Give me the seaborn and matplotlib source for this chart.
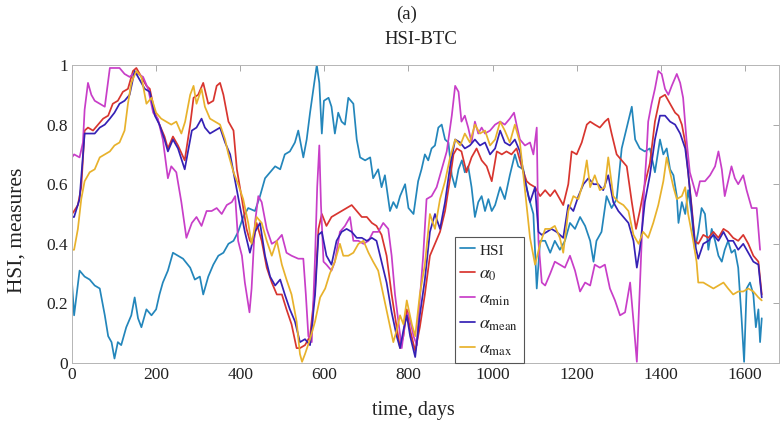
import matplotlib
matplotlib.use("Agg")
import matplotlib.pyplot as plt
import seaborn as sns
import pandas as pd
from matplotlib.lines import Line2D

# ---- series (day, value) ----
hsi_day = [0, 5, 18, 30, 42, 54, 66, 78, 86, 94, 101, 109, 117, 129, 141, 149, 157, 165, 177, 189,
           200, 208, 216, 228, 240, 252, 264, 281, 292, 304, 312, 324, 336, 348, 360, 372, 384, 395,
           407, 419, 435, 447, 459, 471, 483, 495, 506, 518, 530, 538, 550, 558, 566, 574, 582, 588,
           594, 599, 610, 617, 625, 633, 641, 649, 657, 669, 677, 685, 697, 709, 716, 728, 736, 744,
           756, 764, 772, 780, 792, 800, 812, 823, 831, 839, 847, 855, 863, 871, 879, 887, 895, 903,
           911, 919, 927, 934, 942, 950, 958, 966, 974, 982, 990, 998, 1006, 1018, 1029, 1041, 1053,
           1061, 1073, 1085, 1097, 1105, 1113, 1125, 1137, 1148, 1160, 1172, 1184, 1196, 1208, 1220,
           1232, 1240, 1247, 1259, 1271, 1283, 1295, 1307, 1319, 1331, 1339, 1350, 1362, 1374, 1386,
           1398, 1406, 1414, 1422, 1430, 1438, 1442, 1450, 1458, 1465, 1473, 1481, 1489, 1497, 1505,
           1513, 1521, 1529, 1537, 1545, 1552, 1560, 1568, 1576, 1584, 1592, 1598, 1604, 1612, 1620,
           1626, 1632, 1636, 1640]
hsi_val = [0.27, 0.16, 0.31, 0.29, 0.28, 0.26, 0.25, 0.16, 0.09, 0.07, 0.015, 0.07, 0.06, 0.12, 0.16,
           0.22, 0.15, 0.12, 0.18, 0.16, 0.18, 0.23, 0.27, 0.31, 0.37, 0.36, 0.35, 0.32, 0.28, 0.29,
           0.23, 0.29, 0.33, 0.36, 0.37, 0.40, 0.41, 0.44, 0.49, 0.52, 0.51, 0.56, 0.62, 0.64, 0.66,
           0.65, 0.70, 0.71, 0.74, 0.78, 0.69, 0.75, 0.84, 0.92, 1.00, 0.94, 0.77, 0.88, 0.89, 0.86,
           0.77, 0.84, 0.81, 0.80, 0.89, 0.87, 0.75, 0.69, 0.68, 0.69, 0.62, 0.65, 0.59, 0.63, 0.51,
           0.54, 0.52, 0.56, 0.60, 0.52, 0.50, 0.61, 0.65, 0.70, 0.68, 0.72, 0.73, 0.79, 0.80, 0.75,
           0.74, 0.63, 0.59, 0.65, 0.68, 0.64, 0.66, 0.59, 0.49, 0.54, 0.56, 0.51, 0.55, 0.51, 0.53,
           0.59, 0.55, 0.63, 0.70, 0.66, 0.65, 0.56, 0.50, 0.25, 0.41, 0.41, 0.37, 0.41, 0.38, 0.41,
           0.47, 0.45, 0.49, 0.46, 0.41, 0.34, 0.41, 0.44, 0.56, 0.52, 0.55, 0.72, 0.79, 0.86, 0.75,
           0.72, 0.71, 0.72, 0.64, 0.75, 0.70, 0.72, 0.65, 0.63, 0.56, 0.47, 0.54, 0.50, 0.58, 0.50,
           0.38, 0.44, 0.52, 0.50, 0.38, 0.45, 0.41, 0.36, 0.34, 0.38, 0.41, 0.37, 0.38, 0.32, 0.15,
           0.004, 0.25, 0.27, 0.23, 0.12, 0.18, 0.07, 0.15]

a0_day = [0, 5, 14, 22, 30, 38, 50, 62, 74, 86, 97, 109, 121, 133, 145, 153, 165, 177, 185, 197, 208,
          220, 228, 240, 252, 268, 281, 289, 300, 312, 324, 336, 344, 352, 360, 372, 384, 392, 404,
          415, 423, 431, 439, 451, 463, 475, 487, 499, 510, 522, 534, 542, 554, 566, 578, 586, 594,
          605, 617, 629, 641, 653, 665, 677, 689, 701, 713, 724, 736, 748, 760, 772, 780, 788, 796,
          804, 816, 827, 839, 851, 863, 875, 887, 899, 907, 915, 926, 938, 950, 962, 974, 986, 998,
          1010, 1022, 1033, 1045, 1057, 1069, 1081, 1089, 1101, 1113, 1125, 1137, 1148, 1160, 1168,
          1180, 1188, 1200, 1212, 1224, 1232, 1243, 1255, 1267, 1275, 1283, 1295, 1307, 1319, 1331,
          1341, 1350, 1362, 1374, 1386, 1398, 1410, 1422, 1434, 1442, 1450, 1458, 1465, 1473, 1481,
          1489, 1501, 1513, 1525, 1537, 1549, 1560, 1572, 1584, 1596, 1608, 1620, 1632, 1640]
a0_val = [0.50, 0.51, 0.53, 0.59, 0.78, 0.79, 0.78, 0.80, 0.82, 0.83, 0.87, 0.88, 0.91, 0.92, 0.98,
          0.99, 0.96, 0.93, 0.92, 0.84, 0.80, 0.76, 0.72, 0.76, 0.73, 0.68, 0.80, 0.89, 0.90, 0.94,
          0.87, 0.88, 0.93, 0.94, 0.90, 0.81, 0.78, 0.65, 0.55, 0.45, 0.41, 0.40, 0.47, 0.41, 0.32,
          0.27, 0.23, 0.23, 0.18, 0.13, 0.05, 0.05, 0.06, 0.09, 0.25, 0.45, 0.50, 0.46, 0.49, 0.50,
          0.51, 0.52, 0.53, 0.51, 0.49, 0.49, 0.47, 0.46, 0.43, 0.36, 0.23, 0.12, 0.05, 0.09, 0.18,
          0.11, 0.04, 0.12, 0.23, 0.36, 0.40, 0.44, 0.51, 0.62, 0.70, 0.72, 0.71, 0.64, 0.69, 0.72,
          0.68, 0.66, 0.61, 0.71, 0.70, 0.71, 0.70, 0.72, 0.66, 0.61, 0.60, 0.59, 0.56, 0.58, 0.56,
          0.58, 0.55, 0.53, 0.60, 0.71, 0.70, 0.74, 0.80, 0.81, 0.80, 0.79, 0.81, 0.82, 0.77, 0.70,
          0.68, 0.66, 0.54, 0.45, 0.51, 0.60, 0.67, 0.81, 0.89, 0.90, 0.87, 0.84, 0.83, 0.80, 0.74,
          0.64, 0.53, 0.41, 0.40, 0.43, 0.42, 0.44, 0.42, 0.45, 0.44, 0.42, 0.41, 0.43, 0.40, 0.36,
          0.34, 0.23]

amin_day = [0, 5, 18, 26, 30, 38, 46, 54, 66, 78, 90, 101, 113, 125, 137, 145, 157, 169, 181, 193,
            204, 216, 228, 236, 248, 260, 272, 285, 296, 308, 320, 332, 344, 356, 368, 380, 388, 395,
            404, 411, 422, 427, 435, 443, 451, 463, 475, 487, 499, 510, 522, 538, 550, 556, 562, 570,
            578, 583, 588, 592, 598, 605, 617, 625, 637, 649, 661, 669, 681, 693, 705, 716, 728, 740,
            752, 760, 768, 776, 784, 792, 800, 812, 820, 823, 835, 843, 855, 867, 879, 891, 903, 911,
            919, 926, 934, 942, 950, 958, 966, 974, 982, 994, 1006, 1018, 1029, 1041, 1051, 1057,
            1065, 1077, 1089, 1097, 1105, 1109, 1117, 1125, 1137, 1148, 1160, 1172, 1184, 1196, 1208,
            1220, 1232, 1243, 1255, 1267, 1279, 1291, 1303, 1315, 1327, 1335, 1343, 1350, 1358, 1366,
            1370, 1378, 1386, 1394, 1402, 1410, 1418, 1426, 1438, 1446, 1453, 1461, 1469, 1477, 1485,
            1493, 1505, 1517, 1529, 1537, 1545, 1552, 1560, 1568, 1576, 1584, 1596, 1604, 1616, 1628,
            1636]
amin_val = [0.69, 0.70, 0.69, 0.74, 0.85, 0.94, 0.90, 0.88, 0.87, 0.86, 0.99, 0.99, 0.99, 0.97, 0.96,
            0.97, 0.97, 0.96, 0.92, 0.84, 0.82, 0.75, 0.62, 0.66, 0.64, 0.54, 0.42, 0.47, 0.49, 0.46,
            0.51, 0.51, 0.52, 0.50, 0.53, 0.54, 0.56, 0.41, 0.36, 0.27, 0.17, 0.25, 0.47, 0.56, 0.54,
            0.45, 0.40, 0.41, 0.43, 0.37, 0.36, 0.35, 0.35, 0.23, 0.09, 0.07, 0.36, 0.59, 0.73, 0.53,
            0.34, 0.33, 0.31, 0.34, 0.44, 0.46, 0.49, 0.41, 0.41, 0.40, 0.41, 0.44, 0.44, 0.47, 0.45,
            0.36, 0.23, 0.14, 0.05, 0.14, 0.17, 0.09, 0.06, 0.14, 0.36, 0.55, 0.56, 0.59, 0.65, 0.71,
            0.83, 0.93, 0.91, 0.81, 0.83, 0.79, 0.74, 0.81, 0.77, 0.79, 0.77, 0.78, 0.80, 0.81, 0.80,
            0.82, 0.84, 0.80, 0.75, 0.73, 0.74, 0.70, 0.79, 0.41, 0.27, 0.26, 0.30, 0.34, 0.33, 0.32,
            0.36, 0.31, 0.24, 0.27, 0.26, 0.33, 0.32, 0.33, 0.25, 0.21, 0.16, 0.17, 0.27, 0.14, 0.004,
            0.25, 0.53, 0.70, 0.81, 0.87, 0.92, 0.98, 0.97, 0.92, 0.90, 0.93, 0.97, 0.94, 0.89, 0.75,
            0.64, 0.60, 0.56, 0.61, 0.61, 0.63, 0.66, 0.71, 0.65, 0.56, 0.61, 0.66, 0.62, 0.60, 0.63,
            0.58, 0.52, 0.52, 0.38]

amean_day = [0, 5, 18, 30, 42, 54, 66, 78, 90, 101, 113, 125, 137, 149, 161, 173, 185, 197, 208, 220,
             228, 240, 252, 268, 285, 296, 308, 316, 328, 340, 352, 364, 376, 388, 400, 411, 423, 435,
             447, 459, 471, 483, 495, 506, 518, 530, 542, 554, 566, 578, 586, 594, 605, 617, 629, 641,
             653, 665, 677, 689, 701, 713, 724, 736, 748, 760, 772, 780, 788, 796, 804, 816, 827, 839,
             851, 863, 875, 887, 899, 911, 923, 934, 946, 958, 970, 982, 994, 1006, 1018, 1029, 1041,
             1053, 1065, 1077, 1089, 1101, 1109, 1117, 1129, 1140, 1152, 1168, 1180, 1192, 1204, 1216,
             1228, 1240, 1251, 1263, 1275, 1287, 1299, 1311, 1323, 1335, 1343, 1350, 1362, 1374, 1386,
             1398, 1410, 1422, 1434, 1446, 1458, 1465, 1473, 1481, 1489, 1501, 1513, 1525, 1537, 1549,
             1560, 1572, 1584, 1596, 1608, 1620, 1632, 1640]
amean_val = [0.49, 0.49, 0.55, 0.77, 0.77, 0.77, 0.79, 0.80, 0.82, 0.84, 0.87, 0.88, 0.90, 0.98, 0.95,
             0.92, 0.91, 0.83, 0.80, 0.75, 0.71, 0.75, 0.72, 0.65, 0.78, 0.79, 0.82, 0.79, 0.77, 0.78,
             0.79, 0.74, 0.70, 0.61, 0.52, 0.44, 0.37, 0.44, 0.47, 0.36, 0.29, 0.26, 0.28, 0.23, 0.18,
             0.14, 0.07, 0.08, 0.06, 0.23, 0.43, 0.44, 0.36, 0.33, 0.41, 0.44, 0.45, 0.44, 0.42, 0.42,
             0.41, 0.42, 0.41, 0.34, 0.27, 0.17, 0.09, 0.05, 0.11, 0.16, 0.09, 0.02, 0.16, 0.28, 0.44,
             0.50, 0.45, 0.54, 0.66, 0.75, 0.74, 0.72, 0.73, 0.75, 0.73, 0.74, 0.70, 0.72, 0.78, 0.74,
             0.73, 0.75, 0.71, 0.61, 0.54, 0.59, 0.44, 0.43, 0.44, 0.45, 0.44, 0.42, 0.53, 0.51, 0.56,
             0.60, 0.62, 0.60, 0.60, 0.58, 0.63, 0.54, 0.51, 0.49, 0.47, 0.41, 0.32, 0.38, 0.54, 0.63,
             0.75, 0.83, 0.83, 0.81, 0.80, 0.77, 0.72, 0.64, 0.52, 0.40, 0.35, 0.40, 0.41, 0.43, 0.41,
             0.44, 0.41, 0.41, 0.38, 0.40, 0.37, 0.34, 0.33, 0.22]

amax_day = [0, 5, 14, 22, 30, 42, 54, 66, 78, 90, 101, 113, 125, 133, 141, 153, 165, 177, 189, 200,
            212, 224, 236, 248, 260, 269, 281, 289, 296, 308, 316, 328, 340, 352, 364, 372, 384, 395,
            407, 419, 427, 439, 451, 463, 475, 487, 499, 510, 522, 534, 542, 547, 554, 566, 578, 590,
            602, 613, 625, 637, 645, 657, 669, 681, 693, 705, 716, 728, 740, 752, 764, 772, 780, 788,
            796, 808, 816, 827, 839, 851, 863, 875, 887, 899, 911, 923, 934, 946, 958, 970, 982, 994,
            1006, 1018, 1029, 1041, 1053, 1065, 1077, 1089, 1101, 1113, 1125, 1137, 1148, 1160, 1168,
            1180, 1192, 1204, 1216, 1224, 1232, 1243, 1255, 1267, 1275, 1287, 1299, 1311, 1323, 1335,
            1347, 1358, 1370, 1382, 1394, 1406, 1414, 1422, 1430, 1438, 1450, 1458, 1465, 1477, 1485,
            1489, 1501, 1513, 1525, 1537, 1549, 1560, 1572, 1584, 1596, 1608, 1620, 1632, 1640]
amax_val = [0.38, 0.38, 0.45, 0.55, 0.61, 0.64, 0.65, 0.69, 0.70, 0.71, 0.73, 0.74, 0.78, 0.87, 0.94,
            0.98, 0.96, 0.87, 0.89, 0.84, 0.82, 0.81, 0.80, 0.81, 0.77, 0.81, 0.90, 0.93, 0.87, 0.92,
            0.86, 0.82, 0.81, 0.80, 0.75, 0.70, 0.64, 0.60, 0.55, 0.47, 0.40, 0.49, 0.47, 0.41, 0.36,
            0.41, 0.33, 0.28, 0.23, 0.14, 0.03, 0.004, 0.03, 0.08, 0.14, 0.22, 0.25, 0.30, 0.34, 0.40,
            0.36, 0.36, 0.37, 0.40, 0.41, 0.37, 0.34, 0.31, 0.23, 0.15, 0.07, 0.11, 0.16, 0.13, 0.21,
            0.13, 0.09, 0.23, 0.33, 0.50, 0.45, 0.55, 0.61, 0.69, 0.75, 0.73, 0.77, 0.74, 0.80, 0.77,
            0.78, 0.73, 0.75, 0.81, 0.78, 0.74, 0.80, 0.74, 0.58, 0.42, 0.33, 0.40, 0.45, 0.45, 0.46,
            0.42, 0.37, 0.51, 0.56, 0.55, 0.61, 0.68, 0.59, 0.63, 0.58, 0.59, 0.69, 0.56, 0.54, 0.53,
            0.51, 0.43, 0.40, 0.44, 0.42, 0.47, 0.53, 0.61, 0.69, 0.64, 0.59, 0.55, 0.56, 0.59, 0.50,
            0.41, 0.34, 0.27, 0.27, 0.26, 0.25, 0.26, 0.27, 0.25, 0.23, 0.24, 0.24, 0.25, 0.24, 0.22,
            0.21]

series_names = ["HSI", "a0", "amin", "amean", "amax"]
legend_labels = ["HSI", r"$\alpha_{0}$", r"$\alpha_{\mathrm{min}}$",
                 r"$\alpha_{\mathrm{mean}}$", r"$\alpha_{\mathrm{max}}$"]
colors = ["#2386bb", "#d8352f", "#c83ec8", "#3521b5", "#e8b22c"]
x_ticks = [0, 200, 400, 600, 800, 1000, 1200, 1400, 1600]
y_ticks = [0, 0.2, 0.4, 0.6, 0.8, 1]
y_ticklabels = ["0", "0.2", "0.4", "0.6", "0.8", "1"]

frames = []
for name, d, v in zip(series_names,
                      [hsi_day, a0_day, amin_day, amean_day, amax_day],
                      [hsi_val, a0_val, amin_val, amean_val, amax_val]):
    frames.append(pd.DataFrame({"day": d, "value": v, "series": name}))
df = pd.concat(frames, ignore_index=True)

sns.set_theme(style="white")
plt.rcParams["font.family"] = ["Liberation Serif", "DejaVu Serif"]
plt.rcParams["mathtext.fontset"] = "stix"

W, H = 781, 429
fig = plt.figure(figsize=(W / 100, H / 100), dpi=100)
ax = fig.add_axes([72 / W, (H - 363) / H, (779 - 72) / W, 298 / H])

sns.lineplot(data=df, x="day", y="value", hue="series", hue_order=series_names,
             palette=colors, estimator=None, sort=False, linewidth=1.25, legend=False, ax=ax)

ax.set_xlim(0, 1681)
ax.set_ylim(0, 1)
ax.set_xticks(x_ticks)
ax.set_xticklabels([str(t) for t in x_ticks])
ax.set_yticks(y_ticks)
ax.set_yticklabels(y_ticklabels)
ax.tick_params(axis="both", direction="in", length=4, width=0.6, color="#9a9a9a",
               labelsize=12.5, labelcolor="#222222", top=True, right=True, pad=3)
for s in ax.spines.values():
    s.set_color("#b5b5b5")
    s.set_linewidth(0.7)

ax.set_xlabel("time, days", fontsize=14.5, color="#222222", va="center")
ax.xaxis.set_label_coords((413 - 72) / 707, -(410 - 363) / 298)
ax.set_ylabel("HSI, measures", fontsize=15.5, color="#222222", va="center")
ax.yaxis.set_label_coords((17 - 72) / 707, (363 - 230) / 298)

fig.text(407 / W, 1 - 14 / H, "(a)", ha="center", va="center", fontsize=13.5, color="#222222")
fig.text(421 / W, 1 - 40 / H, "HSI-BTC", ha="center", va="center", fontsize=13.5, color="#222222")

handles = [Line2D([0], [0], color=c, lw=1.25) for c in colors]
leg = ax.legend(handles, legend_labels, loc="lower left", bbox_to_anchor=((455 - 72) / 707, 0),
                borderaxespad=0, fontsize=13, handlelength=0.8, handletextpad=0.25,
                labelspacing=0.42, borderpad=0.3, fancybox=False, framealpha=1,
                edgecolor="#555555")
leg.get_frame().set_linewidth(0.8)
texts = leg.get_texts()
texts[0].set_fontsize(11)
for t in texts:
    t.set_color("#222222")

fig.savefig("out.png", dpi=100)
